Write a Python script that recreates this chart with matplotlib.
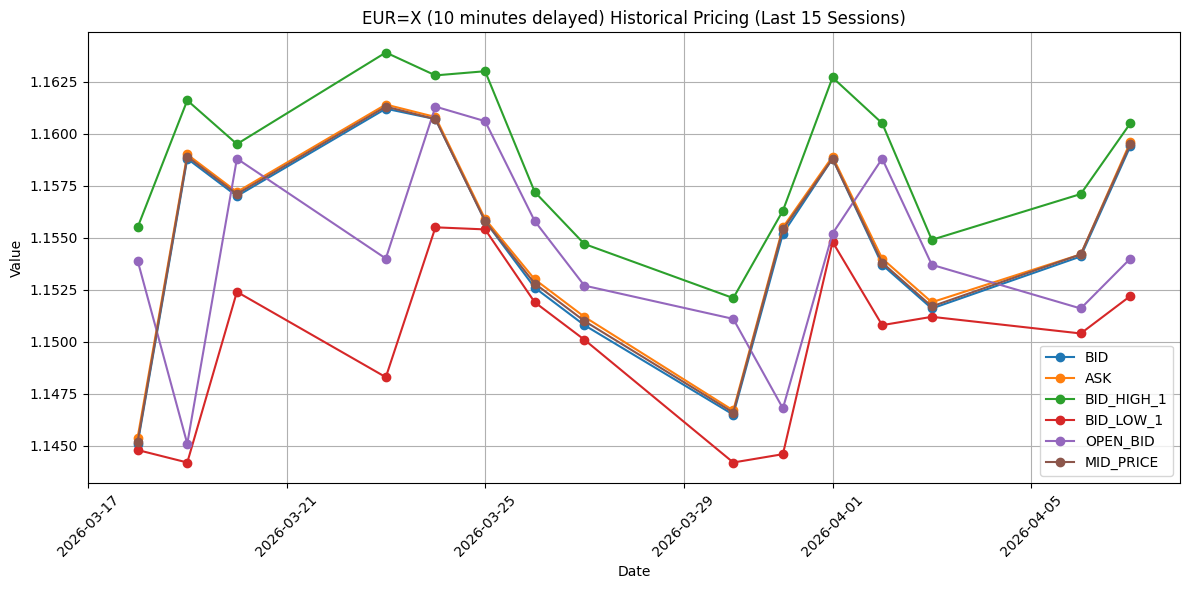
import pandas as pd
from matplotlib import pyplot as plt

dates = ["2026-03-18", "2026-03-19", "2026-03-20", "2026-03-23", "2026-03-24",
         "2026-03-25", "2026-03-26", "2026-03-27", "2026-03-30", "2026-03-31",
         "2026-04-01", "2026-04-02", "2026-04-03", "2026-04-06", "2026-04-07"]

bid = [1.1451, 1.1588, 1.1570, 1.1612, 1.1607, 1.1558, 1.1526, 1.1508,
       1.1465, 1.1552, 1.1588, 1.1537, 1.1516, 1.1541, 1.1594]
ask = [1.1454, 1.1590, 1.1572, 1.1614, 1.1608, 1.1559, 1.1530, 1.1512,
       1.1467, 1.1555, 1.1589, 1.1540, 1.1519, 1.1542, 1.1596]
bid_high = [1.1555, 1.1616, 1.1595, 1.1639, 1.1628, 1.1630, 1.1572, 1.1547,
            1.1521, 1.1563, 1.1627, 1.1605, 1.1549, 1.1571, 1.1605]
bid_low = [1.1448, 1.1442, 1.1524, 1.1483, 1.1555, 1.1554, 1.1519, 1.1501,
           1.1442, 1.1446, 1.1548, 1.1508, 1.1512, 1.1504, 1.1522]
open_bid = [1.1539, 1.1451, 1.1588, 1.1540, 1.1613, 1.1606, 1.1558, 1.1527,
            1.1511, 1.1468, 1.1552, 1.1588, 1.1537, 1.1516, 1.1540]
mid_price = [1.1452, 1.1589, 1.1571, 1.1613, 1.1607, 1.1558, 1.1528, 1.1510,
             1.1466, 1.1554, 1.1588, 1.1538, 1.1517, 1.1542, 1.1595]

df = pd.DataFrame({
    "BID": bid,
    "ASK": ask,
    "BID_HIGH_1": bid_high,
    "BID_LOW_1": bid_low,
    "OPEN_BID": open_bid,
    "MID_PRICE": mid_price,
}, index=pd.to_datetime(dates))

fig, ax = plt.subplots(figsize=(11.89, 5.9), dpi=100)
for col in df.columns:
    ax.plot(df.index, df[col], marker="o", label=col)

ax.set_title("EUR=X (10 minutes delayed) Historical Pricing (Last 15 Sessions)")
ax.set_xlabel("Date")
ax.set_ylabel("Value")
ax.grid(True)
ax.legend(loc="lower right")
plt.setp(ax.get_xticklabels(), rotation=45)
# match the reference margins (it was cropped tight)
fig.subplots_adjust(left=88/1189, right=1180/1189, top=1-32/590, bottom=1-483/590)
plt.savefig("out.png")
